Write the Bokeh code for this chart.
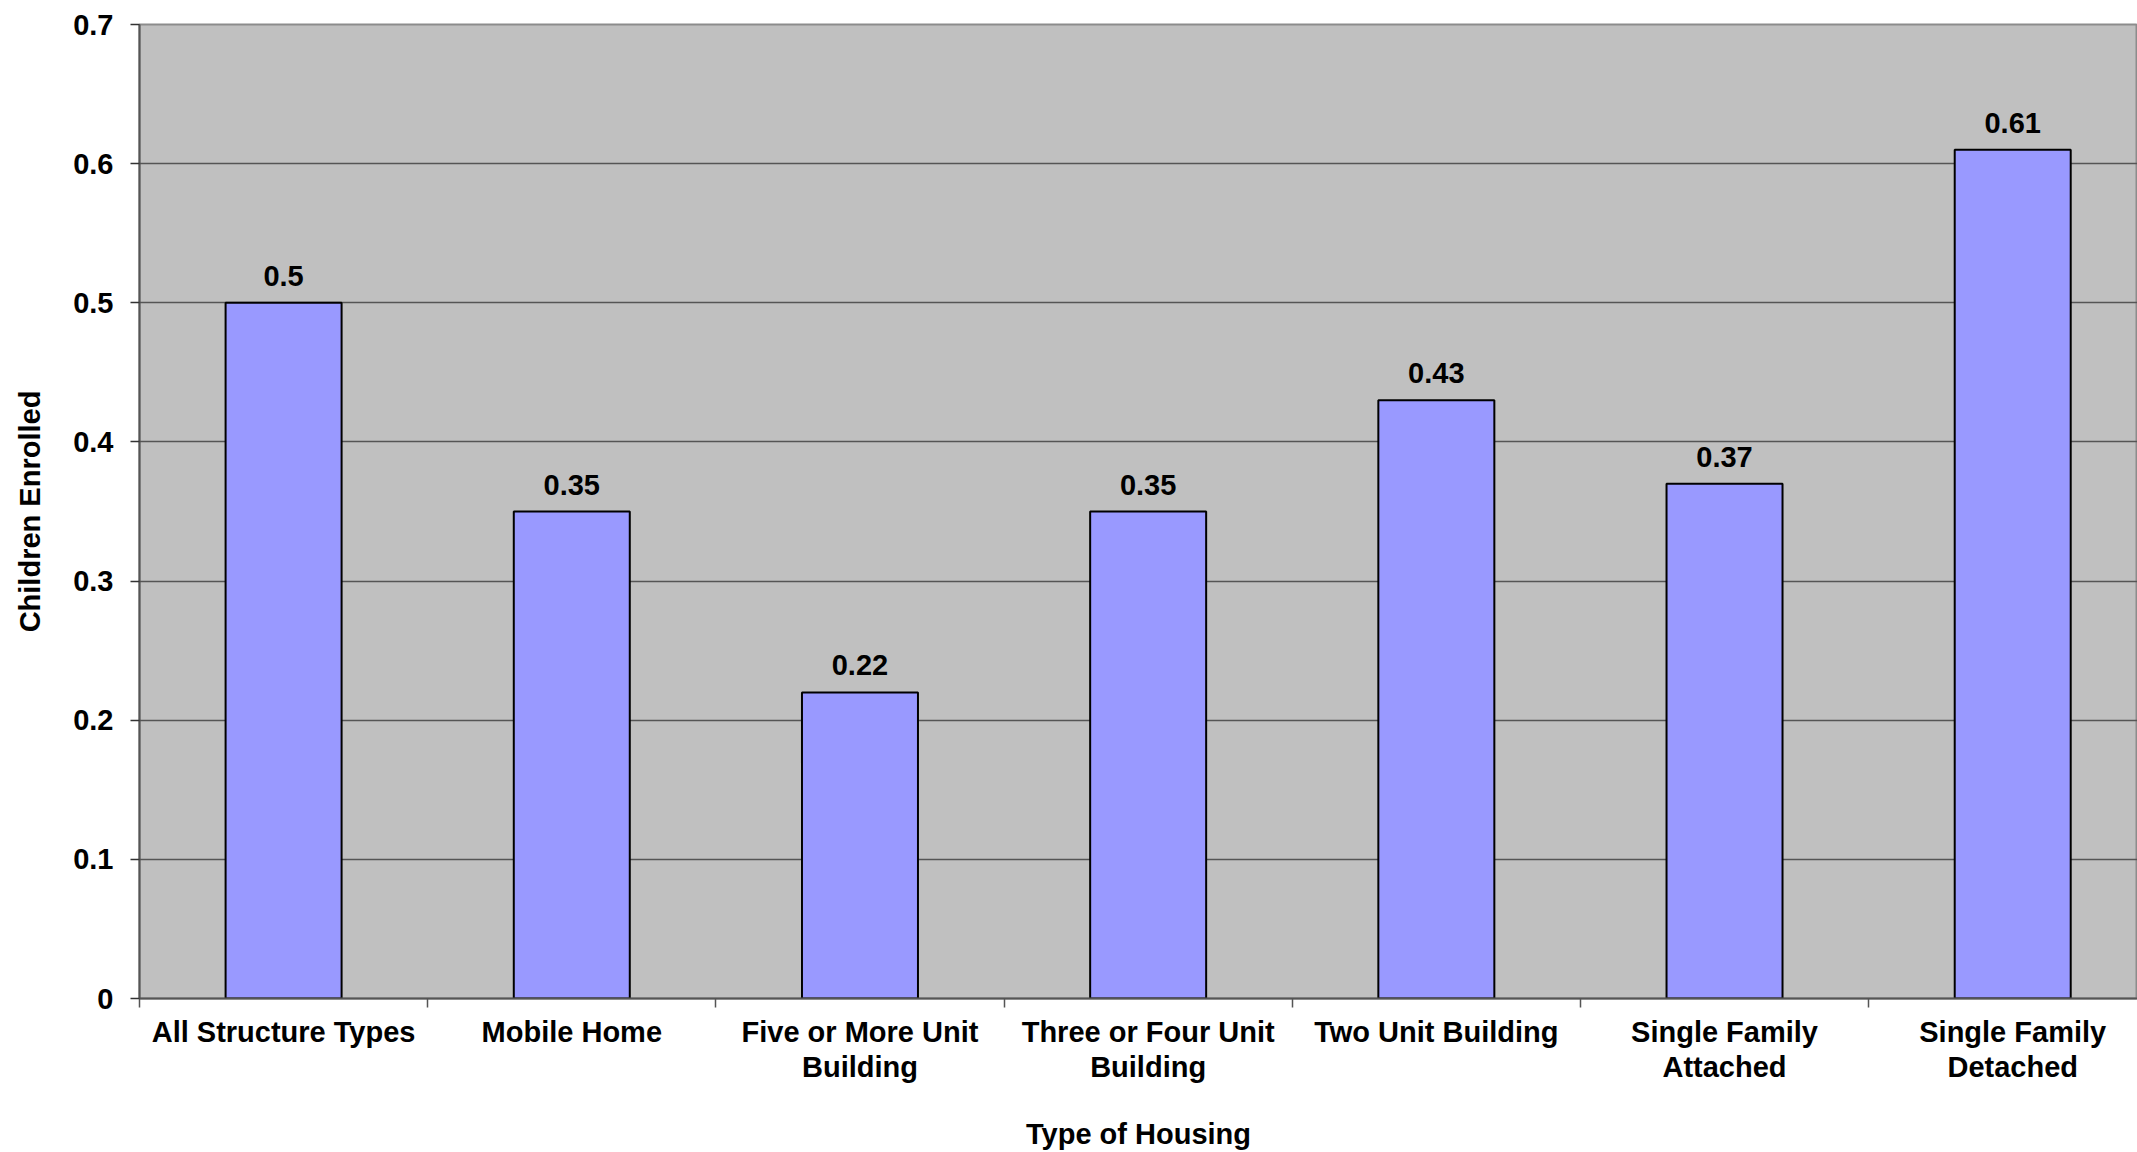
from bokeh.plotting import figure
from bokeh.models import ColumnDataSource, FixedTicker, Range1d
from bokeh.embed import file_html
from bokeh.resources import INLINE
from bokeh.core.properties import value

# Average number of children enrolled, by type of housing
categories = [
    "All Structure Types",
    "Mobile Home",
    "Five or More Unit\nBuilding",
    "Three or Four Unit\nBuilding",
    "Two Unit Building",
    "Single Family\nAttached",
    "Single Family\nDetached",
]
enrolled = [0.5, 0.35, 0.22, 0.35, 0.43, 0.37, 0.61]
y_ticks = [0, 0.1, 0.2, 0.3, 0.4, 0.5, 0.6, 0.7]

FONT = "Liberation Sans"
FS = "29px"

centers = [i + 0.5 for i in range(len(categories))]
source = ColumnDataSource(dict(
    x=centers,
    top=enrolled,
    label=[str(v) for v in enrolled],
))

p = figure(
    width=2137, height=1152,
    output_backend="svg", toolbar_location=None,
    x_range=Range1d(0, 6.933), y_range=Range1d(0, 0.7),
    min_border_left=139, min_border_right=0,
    min_border_top=24, min_border_bottom=153,
)
p.background_fill_color = "#c0c0c0"
p.border_fill_color = "white"
p.outline_line_color = "#8c8c8c"
p.outline_line_width = 2

p.vbar(x="x", top="top", bottom=0, width=0.4025, source=source,
       fill_color="#9999ff", line_color="black", line_width=2)

p.text(x="x", y="top", text="label", source=source,
       text_font=value(FONT), text_font_style="bold", text_font_size=FS,
       text_align="center", text_baseline="alphabetic", y_offset=-27,
       text_color="black")

# y axis
p.yaxis.ticker = FixedTicker(ticks=y_ticks)
p.yaxis.major_label_overrides = {t: ("0" if t == 0 else f"{t:g}") for t in y_ticks}
p.yaxis.axis_label = "Children Enrolled"
p.yaxis.axis_label_text_font = FONT
p.yaxis.axis_label_text_font_style = "bold"
p.yaxis.axis_label_text_font_size = FS
p.yaxis.axis_label_text_color = "black"
p.yaxis.axis_label_standoff = 24
p.yaxis.major_label_text_font = FONT
p.yaxis.major_label_text_font_style = "bold"
p.yaxis.major_label_text_font_size = FS
p.yaxis.major_label_text_color = "black"
p.yaxis.major_label_standoff = 17
p.yaxis.major_tick_out = 9
p.yaxis.major_tick_in = 0
p.yaxis.minor_tick_line_color = None
p.yaxis.axis_line_color = "#555555"
p.yaxis.axis_line_width = 2
p.yaxis.major_tick_line_color = "#333333"
p.yaxis.major_tick_line_width = 1.5

# x axis: labels at bar centres, ticks at category boundaries
p.xaxis.ticker = FixedTicker(ticks=centers,
                             minor_ticks=list(range(len(categories) + 1)))
p.xaxis.major_label_overrides = {c: lab for c, lab in zip(centers, categories)}
p.xaxis.major_tick_out = 0
p.xaxis.major_tick_in = 0
p.xaxis.minor_tick_out = 9
p.xaxis.minor_tick_in = 0
p.xaxis.minor_tick_line_color = "#555555"
p.xaxis.minor_tick_line_width = 1.5
p.xaxis.axis_line_color = "#555555"
p.xaxis.axis_line_width = 2
p.xaxis.major_label_text_font = FONT
p.xaxis.major_label_text_font_style = "bold"
p.xaxis.major_label_text_font_size = FS
p.xaxis.major_label_text_color = "black"
p.xaxis.major_label_text_line_height = 1.1
p.xaxis.major_label_standoff = 8
p.xaxis.axis_label = "Type of Housing"
p.xaxis.axis_label_text_font = FONT
p.xaxis.axis_label_text_font_style = "bold"
p.xaxis.axis_label_text_font_size = FS
p.xaxis.axis_label_text_color = "black"
p.xaxis.axis_label_standoff = 32

p.xgrid.grid_line_color = None
p.ygrid.ticker = FixedTicker(ticks=y_ticks)
p.ygrid.grid_line_color = "#555555"
p.ygrid.grid_line_width = 1.5

open("out.html", "w").write(file_html(p, INLINE))
